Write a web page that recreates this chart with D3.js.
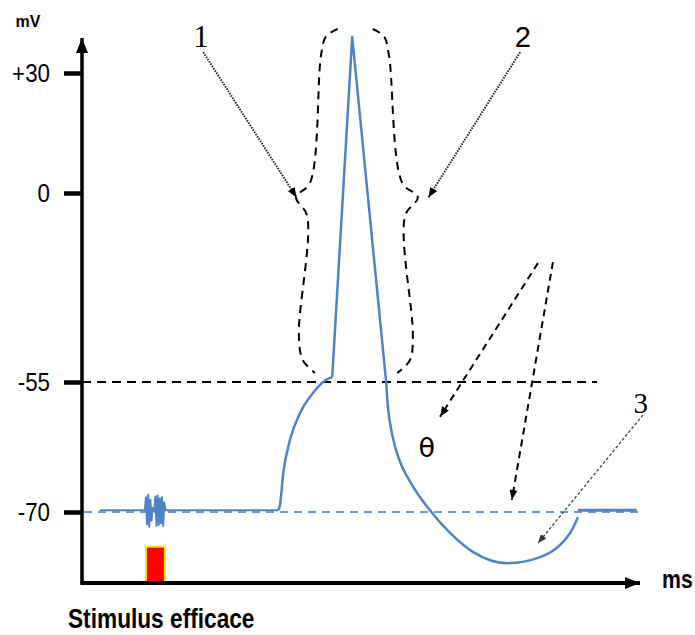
<html>
    <head>
        <meta charset="utf-8">
        <style>
            body { margin: 0; background: white; }
            text { font-family: "Liberation Sans", Arial, sans-serif; }
        </style>
    </head>
    <body>
        <svg id="container1" height="635" width="695">
            <defs></defs>
            <g id="lines"> </g>
            <g id="notes"> </g>
            <g id="trace"> </g>
            <g id="yAxis"> </g>
            <g id="xAxis"> </g>
        </svg>
    </body>
    <script src="https://d3js.org/d3.v7.min.js" charset="utf-8"></script>
    <script>
        // tick labels (mV)
        let yTicks = [30, 0, -55, -70]
        let threshold = -55
        let rest = -70

        // resting trace with the stimulus artefact (ms, mV)
        let baseT = [0.32, 1.13, 1.15, 1.17, 1.19, 1.21, 1.23, 1.25, 1.27, 1.30, 1.32, 1.34, 1.36, 1.38, 1.40, 1.42, 1.44, 1.46, 1.48, 1.50, 3.53]
        let baseV = [-69.8, -69.8, -68.3, -71.4, -68.0, -71.7, -68.6, -71.0, -69.5, -69.9, -68.2, -71.6, -68.1, -71.5, -68.4, -71.3, -68.3, -71.6, -68.9, -69.8, -69.8]

        // depolarisation up to threshold
        let riseT = [3.53, 3.56, 3.62, 3.74, 3.92, 4.15, 4.42, 4.50]
        let riseV = [-69.8, -69.2, -65.5, -61.7, -58.6, -56.3, -54.1, -53.6]

        // spike
        let spikeT = [4.50, 4.86, 5.47]
        let spikeV = [-53.6, 39, -55]

        // repolarisation and hyperpolarisation
        let fallT = [5.47, 5.50, 5.58, 5.72, 5.90, 6.08, 6.26, 6.44, 6.62, 7.03, 7.64, 8.24, 8.60, 8.81, 8.92]
        let fallV = [-55, -57.7, -61.1, -64.2, -66.5, -68.3, -69.8, -71.2, -72.4, -74.6, -75.9, -75.2, -73.8, -72.1, -70.6]

        // back to rest
        let tailT = [8.92, 9.98]
        let tailV = [-69.8, -69.8]

        // stimulus
        let stimT = [1.15, 1.49]
        let stimTop = -74

        // dashed braces round the spike
        let braceL = [[4.60, 41], [4.39, 39.2], [4.30, 34.5], [4.10, 2.5], [3.85, -1.2], [4.05, -6.7], [3.90, -41.3], [3.97, -48.6], [4.19, -52.4]]
        let braceR = [[5.23, 41], [5.43, 39.2], [5.52, 34.5], [5.76, 2.5], [6.04, -1.2], [5.81, -6.7], [5.95, -41.3], [5.90, -48.6], [5.67, -52.4]]

        // annotation arrows [from, to] and labels
        let dotArrows = [[[2.18, 35.2], [3.86, -1.3]], [[7.88, 35.2], [6.23, -1.3]]]
        let fineArrow = [[10.09, -58.8], [8.20, -73.6]]
        let dashArrows = [[[8.20, -20.4], [6.44, -59.0]], [[8.47, -20.1], [7.73, -68.6]]]
        let labels = [
            {text: "1", t: 2.14, v: 36.6, font: "Liberation Serif", size: 31},
            {text: "2", t: 7.93, v: 36.6, font: "Liberation Sans", size: 29},
            {text: "3", t: 10.05, v: -58.6, font: "Liberation Serif", size: 29},
            {text: "θ", t: 6.20, v: -63.6, font: "DejaVu Sans", size: 27}
        ]

        let plotLeft = 82, plotRight = 640, plotTop = 38, plotBottom = 583
        let blue = "#4f83c6"

        let x = d3.scaleLinear().domain([0, 10]).range([82, 638])
        let y = d3.scaleLinear().domain([-70, -55, 0, 30]).range([512, 382, 193, 73])

        let svg = d3.select("#container1")
        let defs = svg.select("defs")

        function marker(id, w, h, color) {
            defs.append("marker")
                .attr("id", id)
                .attr("markerUnits", "userSpaceOnUse")
                .attr("viewBox", `0 0 ${w} ${h}`)
                .attr("refX", w).attr("refY", h / 2)
                .attr("markerWidth", w).attr("markerHeight", h)
                .attr("orient", "auto")
                .append("path")
                .attr("d", `M0,0L${w},${h / 2}L0,${h}Z`)
                .style("fill", color)
        }
        marker("axisHead", 15, 12, "black")
        marker("head", 10, 8, "black")
        marker("smallHead", 9, 7, "#333")

        // reference lines
        let lines = d3.select("#lines")
        lines.append("line")
            .attr("x1", plotLeft).attr("x2", 597)
            .attr("y1", y(threshold)).attr("y2", y(threshold))
            .style("stroke", "black").style("stroke-width", 2)
            .style("stroke-dasharray", "9,6")
        lines.append("line")
            .attr("x1", plotLeft - 12).attr("x2", plotRight)
            .attr("y1", y(rest)).attr("y2", y(rest))
            .style("stroke", "#6a9bd8").style("stroke-width", 1.8)
            .style("stroke-dasharray", "8,6")

        // annotations
        let notes = d3.select("#notes")
        let brace = d3.line().x(d => x(d[0])).y(d => y(d[1])).curve(d3.curveCatmullRom.alpha(0.5))
        notes.selectAll("path.brace").data([braceL, braceR]).enter()
            .append("path").attr("class", "brace")
            .attr("d", brace)
            .style("fill", "none").style("stroke", "black").style("stroke-width", 2)
            .style("stroke-dasharray", "8,6")

        let straight = d3.line().x(d => x(d[0])).y(d => y(d[1]))
        notes.selectAll("path.dot").data(dotArrows).enter()
            .append("path").attr("class", "dot")
            .attr("d", straight)
            .style("stroke", "#222").style("stroke-width", 2)
            .style("stroke-dasharray", "1.5,1.2")
            .attr("marker-end", "url(#head)")
        notes.append("path")
            .attr("d", straight(fineArrow))
            .style("stroke", "#444").style("stroke-width", 1.3)
            .style("stroke-dasharray", "3,2")
            .attr("marker-end", "url(#smallHead)")
        notes.selectAll("path.dash").data(dashArrows).enter()
            .append("path").attr("class", "dash")
            .attr("d", straight)
            .style("stroke", "black").style("stroke-width", 2)
            .style("stroke-dasharray", "7,5")
            .attr("marker-end", "url(#head)")

        notes.selectAll("text").data(labels).enter()
            .append("text")
            .attr("x", d => x(d.t)).attr("y", d => y(d.v))
            .attr("text-anchor", "middle")
            .style("font-family", d => d.font)
            .style("font-size", d => d.size + "px")
            .text(d => d.text)

        // stimulus box
        notes.append("rect")
            .attr("x", x(stimT[0])).attr("width", x(stimT[1]) - x(stimT[0]))
            .attr("y", y(stimTop)).attr("height", plotBottom - 1 - y(stimTop))
            .style("fill", "#ff0000").style("stroke", "#f2e600").style("stroke-width", 2)

        // membrane potential trace
        let trace = d3.select("#trace")
        function zip(ts, vs) { return ts.map((t, i) => [t, vs[i]]) }
        let smooth = d3.line().x(d => x(d[0])).y(d => y(d[1])).curve(d3.curveMonotoneX)
        let pieces = [
            {pts: zip(baseT, baseV), line: straight, w: 2},
            {pts: zip(riseT, riseV), line: smooth, w: 2.5},
            {pts: zip(spikeT, spikeV), line: straight, w: 2.5},
            {pts: zip(fallT, fallV), line: smooth, w: 2.5},
            {pts: zip(tailT, tailV), line: straight, w: 3}
        ]
        trace.selectAll("path").data(pieces).enter()
            .append("path")
            .attr("d", d => d.line(d.pts))
            .style("fill", "none").style("stroke", blue)
            .style("stroke-width", d => d.w)
            .style("stroke-linejoin", "round")

        // axes
        let yAxis = d3.axisLeft(y)
            .tickValues(yTicks)
            .tickSize(18)
            .tickFormat(d => d > 0 ? "+" + d : "" + d)
        let ya = d3.select("#yAxis")
            .attr("transform", `translate(${plotLeft},0)`)
            .call(yAxis)
        ya.select(".domain").remove()
        ya.selectAll(".tick line").style("stroke-width", 4.5)
        ya.selectAll(".tick text")
            .attr("x", -32 / 0.86)
            .attr("transform", "scale(0.86,1)")
            .style("font-size", "26px")
            .style("font-family", "Liberation Sans")
        ya.append("line")
            .attr("x1", 0).attr("x2", 0)
            .attr("y1", plotBottom + 1.5).attr("y2", plotTop)
            .style("stroke", "black").style("stroke-width", 3.5)
            .attr("marker-end", "url(#axisHead)")

        let xa = d3.select("#xAxis")
        xa.append("line")
            .attr("x1", plotLeft - 1.5).attr("x2", plotRight)
            .attr("y1", plotBottom).attr("y2", plotBottom)
            .style("stroke", "black").style("stroke-width", 4)
            .attr("marker-end", "url(#axisHead)")

        svg.append("text")
            .attr("x", 28).attr("y", 27)
            .attr("text-anchor", "middle")
            .style("font-weight", "bold").style("font-size", "16px")
            .text("mV")
        svg.append("text")
            .attr("transform", "translate(662,588) scale(0.85,1)")
            .style("font-weight", "bold").style("font-size", "25px")
            .text("ms")
        svg.append("text")
            .attr("transform", "translate(68,628) scale(0.81,1)")
            .style("font-weight", "bold").style("font-size", "28px")
            .text("Stimulus efficace")
    </script>
</html>
